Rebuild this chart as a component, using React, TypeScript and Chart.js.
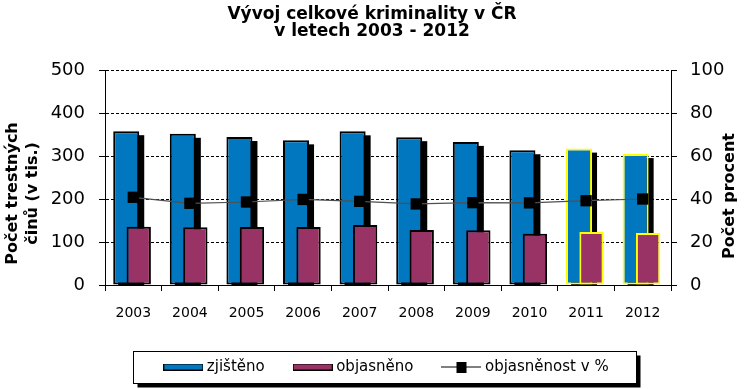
import React, { useEffect, useRef } from 'react';
import { Chart, registerables } from 'chart.js';

Chart.register(...registerables);

// ---------- data ----------
const TITLE_LINES = ['Vývoj celkové kriminality v ČR', 'v letech 2003 - 2012'];
const YEARS = ['2003', '2004', '2005', '2006', '2007', '2008', '2009', '2010', '2011', '2012'];
const ZJISTENO = [357.7, 351.6, 344.1, 336.4, 357.4, 343.8, 332.8, 313.4, 317.2, 304.5];
const OBJASNENO = [135.6, 134.5, 134.9, 134.6, 139.7, 127.9, 127.6, 119.2, 123.2, 120.8];
const OBJASNENOST = [40.8, 38.0, 38.6, 39.8, 38.9, 37.7, 38.3, 38.2, 39.2, 40.0];
const SERIES_NAMES = ['zjištěno', 'objasněno', 'objasněnost v %'];
const HIGHLIGHT_YEARS = ['2011', '2012'];
const LEFT_AXIS_TITLE = ['Počet trestných', 'činů (v tis.)'];
const RIGHT_AXIS_TITLE = 'Počet procent';
const LEFT_MAX = 500;
const LEFT_STEP = 100;
const RIGHT_MAX = 100;
const RIGHT_STEP = 20;

// ---------- styles ----------
const FONT = "'DejaVu Sans', sans-serif";
const BLUE = '#0077BE';
const PLUM = '#993366';
const YELLOW = '#FFFF00';
const BAR_SHIFT = [-0.125, 0.096]; // fraction of category width

function makeSwatch(fill: string) {
  const c = document.createElement('canvas');
  c.width = 40;
  c.height = 7;
  const g = c.getContext('2d')!;
  g.fillStyle = '#000';
  g.fillRect(0, 0, 40, 7);
  g.fillStyle = fill;
  g.fillRect(1, 1, 38, 5);
  return c;
}

function makeLineIcon() {
  const c = document.createElement('canvas');
  c.width = 40;
  c.height = 11;
  const g = c.getContext('2d')!;
  g.fillStyle = '#000';
  g.fillRect(0, 5, 40, 1);
  g.fillRect(15, 0, 10, 11);
  return c;
}

const barOffsetPlugin = {
  id: 'barOffset',
  afterDatasetsUpdate(chart: any) {
    const xs = chart.scales.x;
    const step = xs.getPixelForValue(1) - xs.getPixelForValue(0);
    [0, 1].forEach((di) => {
      const meta = chart.getDatasetMeta(di);
      meta.data.forEach((el: any) => {
        el.x += BAR_SHIFT[di] * step;
      });
    });
  },
};

const shadowPlugin = {
  id: 'barShadow',
  beforeDatasetDraw(chart: any, args: any) {
    if (args.index !== 0) return;
    const { ctx, chartArea } = chart;
    ctx.save();
    ctx.beginPath();
    ctx.rect(chartArea.left, chartArea.top, chartArea.right - chartArea.left, chartArea.bottom - chartArea.top);
    ctx.clip();
    ctx.fillStyle = '#000';
    args.meta.data.forEach((el: any) => {
      const p = el.getProps(['x', 'y', 'base', 'width']);
      ctx.fillRect(p.x - p.width / 2 + 5, p.y + 4, p.width, p.base - p.y);
    });
    ctx.restore();
  },
};

const decorPlugin = {
  id: 'decor',
  beforeDraw(chart: any) {
    const { ctx } = chart;
    const hb = chart.legend && chart.legend.legendHitBoxes;
    if (hb && hb.length) {
      const first = hb[0];
      const last = hb[hb.length - 1];
      const cy = first.top + first.height / 2;
      const l = Math.round(first.left - 34) + 0.5;
      const r = Math.round(last.left + last.width + 27) + 0.5;
      const t = Math.round(cy - 16) + 0.5;
      const b = Math.round(cy + 16) + 0.5;
      ctx.save();
      ctx.fillStyle = '#000';
      ctx.fillRect(l + 4, t + 4, r - l, b - t);
      ctx.fillStyle = '#fff';
      ctx.fillRect(l, t, r - l, b - t);
      ctx.strokeStyle = '#000';
      ctx.lineWidth = 1;
      ctx.strokeRect(l, t, r - l, b - t);
      ctx.restore();
    }
  },
  afterDraw(chart: any) {
    const { ctx, chartArea } = chart;
    const mid = (chartArea.top + chartArea.bottom) / 2;
    ctx.save();
    ctx.fillStyle = '#000';
    ctx.font = `bold 16px ${FONT}`;
    ctx.textAlign = 'center';
    ctx.textBaseline = 'middle';
    LEFT_AXIS_TITLE.forEach((line, i) => {
      ctx.save();
      ctx.translate(chartArea.left - 92 + i * 20, mid + 16);
      ctx.rotate(-Math.PI / 2);
      ctx.fillText(line, 0, 0);
      ctx.restore();
    });
    ctx.save();
    ctx.translate(chartArea.right + 59, mid + 18.5);
    ctx.rotate(-Math.PI / 2);
    ctx.fillText(RIGHT_AXIS_TITLE, 0, 0);
    ctx.restore();
    ctx.restore();
  },
};

export default function App() {
  const ref = useRef<HTMLCanvasElement>(null);

  useEffect(() => {
    if (!ref.current) return;
    Chart.defaults.font.family = FONT;
    Chart.defaults.color = '#000';
    const icons = [makeSwatch(BLUE), makeSwatch(PLUM), makeLineIcon()];
    const borderColors = YEARS.map((y) => (HIGHLIGHT_YEARS.includes(y) ? YELLOW : '#000'));

    const chart = new Chart(ref.current, {
      type: 'bar',
      data: {
        labels: YEARS,
        datasets: [
          {
            type: 'bar',
            label: SERIES_NAMES[0],
            data: ZJISTENO,
            backgroundColor: BLUE,
            borderColor: borderColors,
            borderWidth: 2,
            borderSkipped: false,
            grouped: false,
            barPercentage: 0.46,
            categoryPercentage: 1,
            order: 3,
            yAxisID: 'y',
          },
          {
            type: 'bar',
            label: SERIES_NAMES[1],
            data: OBJASNENO,
            backgroundColor: PLUM,
            borderColor: borderColors,
            borderWidth: 2,
            borderSkipped: false,
            grouped: false,
            barPercentage: 0.43,
            categoryPercentage: 1,
            order: 2,
            yAxisID: 'y',
          },
          {
            type: 'line',
            label: SERIES_NAMES[2],
            data: OBJASNENOST,
            yAxisID: 'y2',
            borderColor: '#505050',
            borderWidth: 1.2,
            pointStyle: 'rect',
            pointRadius: 8,
            pointBackgroundColor: '#000',
            pointBorderColor: '#000',
            pointBorderWidth: 0,
            tension: 0,
            order: 1,
          },
        ] as any,
      },
      options: {
        responsive: false,
        animation: false,
        devicePixelRatio: 1,
        events: [],
        layout: { padding: { left: 0, right: 0, top: 0, bottom: 4.5 } },
        plugins: {
          title: {
            display: true,
            text: TITLE_LINES,
            color: '#000',
            font: { family: FONT, size: 17, weight: 'bold', lineHeight: 1.0 },
            padding: { top: 6, bottom: 30 },
          },
          legend: {
            display: true,
            position: 'bottom',
            fullSize: false,
            labels: {
              usePointStyle: true,
              pointStyleWidth: 32,
              padding: 32,
              color: '#000',
              font: { family: FONT, size: 15 },
              generateLabels: (c: any) =>
                (Chart.defaults.plugins.legend.labels.generateLabels as any)(c).map((it: any) => ({
                  ...it,
                  pointStyle: icons[it.datasetIndex],
                  lineWidth: 0,
                })),
              sort: (a: any, b: any) => a.datasetIndex - b.datasetIndex,
            },
          },
          tooltip: { enabled: false },
        },
        scales: {
          x: {
            type: 'category',
            offset: true,
            grid: { offset: true, drawOnChartArea: false, color: '#000', tickLength: 6 },
            border: { color: '#000', width: 1 },
            ticks: { color: '#000', font: { family: FONT, size: 14 }, padding: 14 },
            afterFit: (s: any) => {
              s.height = 42.5;
            },
          },
          y: {
            position: 'left',
            min: 0,
            max: LEFT_MAX,
            ticks: { stepSize: LEFT_STEP, color: '#000', font: { family: FONT, size: 18 }, padding: 14 },
            grid: { color: '#000', tickLength: 6, tickBorderDash: [] },
            border: { color: '#000', width: 1, dash: [3, 2] },
            afterFit: (s: any) => {
              s.width = 105;
            },
          },
          y2: {
            position: 'right',
            min: 0,
            max: RIGHT_MAX,
            ticks: { stepSize: RIGHT_STEP, color: '#000', font: { family: FONT, size: 18 }, padding: 13 },
            grid: { drawOnChartArea: false, color: '#000', tickLength: 6 },
            border: { color: '#000', width: 1 },
            afterFit: (s: any) => {
              s.width = 73;
            },
          },
        },
      } as any,
      plugins: [barOffsetPlugin, shadowPlugin, decorPlugin],
    });

    return () => chart.destroy();
  }, []);

  return (
    <div style={{ position: 'absolute', left: 0, top: 0, width: 744, height: 389, background: '#fff' }}>
      <canvas ref={ref} width={744} height={389} style={{ display: 'block' }} />
    </div>
  );
}
